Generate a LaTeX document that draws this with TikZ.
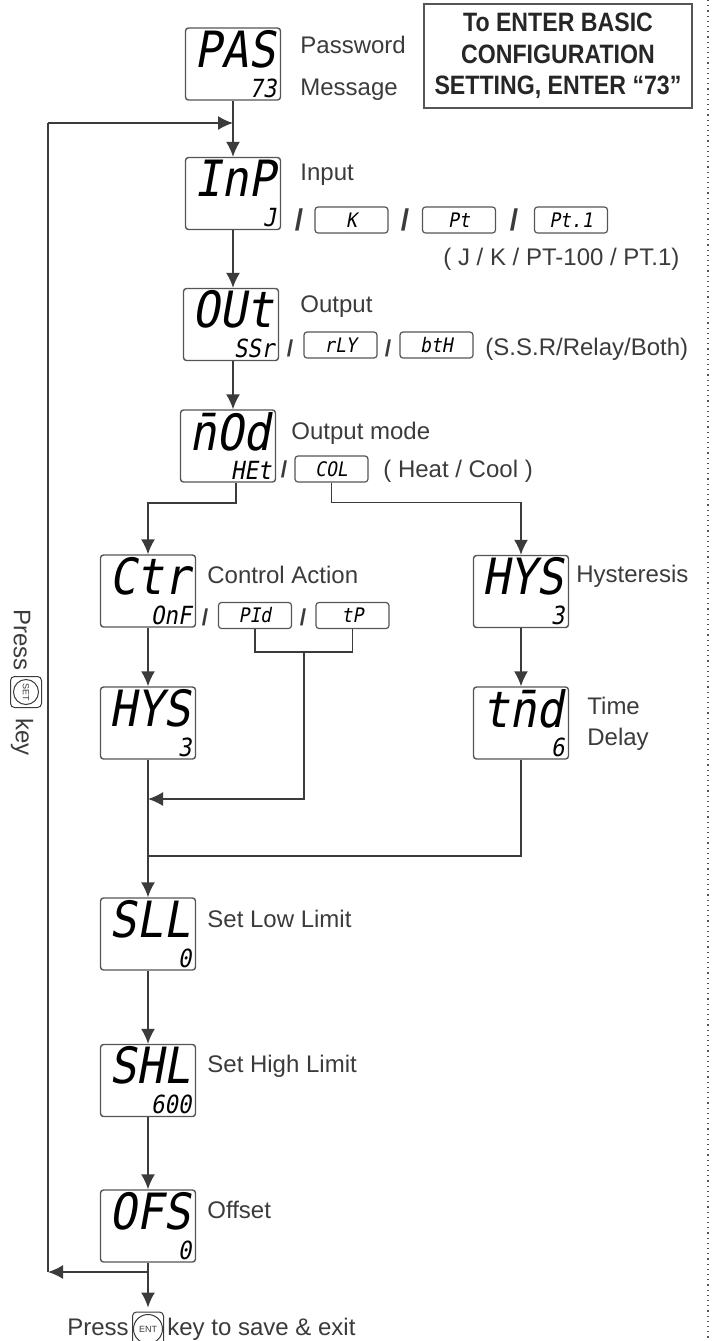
\documentclass[tikz,border=0pt]{standalone}
\usepackage{fontspec}
\setmainfont{Liberation Sans}
\newfontfamily\segfont[FakeSlant=0.18,FakeStretch=0.9]{DejaVu Sans Mono}
\newfontfamily\notefont[FakeStretch=0.87]{Liberation Sans}
\usetikzlibrary{arrows.meta, positioning, calc}
\definecolor{ink}{HTML}{3B3B3B}
\definecolor{frame}{HTML}{555555}

\begin{document}
\begin{tikzpicture}[x=0.5pt, y=-0.5pt, font=\fontsize{12}{14}\selectfont]
    \tikzstyle{display} = [rectangle, draw=frame, line width=0.7pt, fill=white,
        rounded corners=1.5pt, minimum width=47.5pt, minimum height=36pt, inner sep=0pt]
    \tikzstyle{segbig} = [anchor=north east, inner xsep=2.6pt, inner ysep=1.2pt, text=black,
        font=\segfont\fontsize{25}{25}\selectfont]
    \tikzstyle{segsmall} = [anchor=south east, inner xsep=2.2pt, inner ysep=1.4pt, text=black,
        font=\segfont\fontsize{12.5}{12.5}\selectfont]
    \tikzstyle{option} = [rectangle, draw=frame, line width=0.6pt, rounded corners=1.5pt,
        minimum width=36.5pt, minimum height=13pt, inner sep=0pt, text=black,
        font=\segfont\fontsize{10}{10}\selectfont]
    \tikzstyle{caption} = [text=ink, inner sep=0pt, anchor=base west]
    \tikzstyle{slash} = [text=ink, inner sep=0pt, font=\bfseries\fontsize{11.5}{11.5}\selectfont]
    \tikzstyle{note} = [rectangle, draw=frame, line width=0.7pt, align=center,
        minimum width=134pt, minimum height=52pt, text=black!85,
        font=\notefont\bfseries\fontsize{13.3}{15.8}\selectfont]
    \tikzstyle{keybtn} = [rectangle, draw=ink, line width=0.5pt, rounded corners=2pt,
        minimum size=15.5pt, inner sep=0pt]
    \tikzstyle{keyring} = [circle, draw=ink, line width=0.5pt, minimum size=12.5pt,
        inner sep=0pt, text=ink, font=\fontsize{4.5}{5}\selectfont]
    \tikzstyle{line} = [draw=ink, line width=0.8pt, -{Latex[length=7.5pt,width=7pt]}]
    \tikzstyle{plain} = [draw=ink, line width=0.8pt]

    \useasboundingbox (0,0) rectangle (712,1341);

    % main column
    \node [display] (pas) at (233,64) {};
    \node [segbig] (pasbig) at (pas.north east) {PAS};
    \node [segsmall] (passub) at (pas.south east) {73};
    \node [caption] (pasname) at (300,53) {Password};
    \node [caption] (pasmsg) at (300,95) {Message};

    \node [note] (note) at (558,56) {To ENTER BASIC\\CONFIGURATION\\SETTING, ENTER “73”};

    \node [display] (inp) at (233,193.5) {};
    \node [segbig] (inpbig) at (inp.north east) {InP};
    \node [segsmall] (inpsub) at (inp.south east) {J};
    \node [caption] (inpname) at (300,180) {Input};
    \node [slash, font=\bfseries\fontsize{15}{15}\selectfont] (inpsl1) at (299,220) {/};
    \node [option] (optk) at (351.5,220) {K};
    \node [slash, font=\bfseries\fontsize{15}{15}\selectfont] (inpsl2) at (405,220) {/};
    \node [option] (optpt) at (459,220) {Pt};
    \node [slash, font=\bfseries\fontsize{15}{15}\selectfont] (inpsl3) at (514,220) {/};
    \node [option] (optpti) at (571,220) {Pt.1};
    \node [caption] (inpvals) at (443,265) {( J / K / PT-100 / PT.1)};

    \node [display] (out) at (231,324.5) {};
    \node [segbig] (outbig) at (out.north east) {OUt};
    \node [segsmall] (outsub) at (out.south east) {SSr};
    \node [caption] (outname) at (300,312) {Output};
    \node [slash] (outsl1) at (290,348) {/};
    \node [option] (optrly) at (340.5,345) {rLY};
    \node [slash] (outsl2) at (388,348) {/};
    \node [option] (optbth) at (436.5,345) {btH};
    \node [caption] (outvals) at (485,355) {(S.S.R/Relay/Both)};

    \node [display] (nod) at (228,446) {};
    \node [segbig] (nodbig) at (nod.north east) {n̄Od};
    \node [segsmall] (nodsub) at (nod.south east) {HEt};
    \node [caption] (nodname) at (291,439) {Output mode};
    \node [slash] (nodsl1) at (284,469) {/};
    \node [option] (optcol) at (331.5,469) {COL};
    \node [caption] (nodvals) at (383,477) {( Heat / Cool )};

    % heat branch
    \node [display] (ctr) at (148,591) {};
    \node [segbig] (ctrbig) at (ctr.north east) {Ctr};
    \node [segsmall] (ctrsub) at (ctr.south east) {OnF};
    \node [caption] (ctrname) at (207,583) {Control Action};
    \node [slash] (ctrsl1) at (205,617) {/};
    \node [option] (optpid) at (255,615.5) {PId};
    \node [slash] (ctrsl2) at (303,617) {/};
    \node [option] (opttp) at (352.5,615.5) {tP};

    \node [display] (hysa) at (148,723) {};
    \node [segbig] (hysabig) at (hysa.north east) {HYS};
    \node [segsmall] (hysasub) at (hysa.south east) {3};

    % cool branch
    \node [display] (hysb) at (521,591.5) {};
    \node [segbig] (hysbbig) at (hysb.north east) {HYS};
    \node [segsmall] (hysbsub) at (hysb.south east) {3};
    \node [caption] (hysbname) at (576,582) {Hysteresis};

    \node [display] (tnd) at (521,723) {};
    \node [segbig] (tndbig) at (tnd.north east) {tn̄d};
    \node [segsmall] (tndsub) at (tnd.south east) {6};
    \node [caption] (tndname) at (587,714) {Time};
    \node [caption] (tndname2) at (587,745) {Delay};

    % limits
    \node [display] (sll) at (148,934) {};
    \node [segbig] (sllbig) at (sll.north east) {SLL};
    \node [segsmall] (sllsub) at (sll.south east) {0};
    \node [caption] (sllname) at (207,927) {Set Low Limit};

    \node [display] (shl) at (148,1080.5) {};
    \node [segbig] (shlbig) at (shl.north east) {SHL};
    \node [segsmall] (shlsub) at (shl.south east) {600};
    \node [caption] (shlname) at (207,1072) {Set High Limit};

    \node [display] (ofs) at (148,1226) {};
    \node [segbig] (ofsbig) at (ofs.north east) {OFS};
    \node [segsmall] (ofssub) at (ofs.south east) {0};
    \node [caption] (ofsname) at (207,1218) {Offset};

    % keys
    \node [caption, rotate=-90, anchor=center] (setpress) at (22,640) {Press};
    \node [keybtn] (setkey) at (26,692) {};
    \node [keyring, rotate=-90] (setring) at (setkey) {SET};
    \node [caption, rotate=-90, anchor=center] (setword) at (22,737) {key};

    \node [caption] (exitpress) at (67,1335) {Press};
    \node [keybtn, minimum height=17pt] (entkey) at (148,1329) {};
    \node [keyring, minimum size=14.5pt] (entring) at (entkey) {ENT};
    \node [caption] (exitword) at (167,1335) {key to save \& exit};

    \coordinate (entry) at (233,123);
    \coordinate (looptop) at (48,123);
    \coordinate (loopbot) at (48,1272);
    \coordinate (exitsplit) at (148,1272);
    \coordinate (mergea) at (148,799);
    \coordinate (mergeb) at (148,856);

    \path [line] (pas) -- (inp);
    \path [line] (inp.south) -- (inp.south |- out.north);
    \path [line] ([xshift=1pt]out.south) -- ([xshift=1pt]out.south |- nod.north);
    \path [line] ([xshift=4pt]nod.south) -- ++(0,20) -| (ctr.north);
    \path [line] (optcol.south) -- ++(0,20) -| (hysb.north);
    \path [line] (ctr) -- (hysa);
    \path [line] (hysb) -- (tnd);
    \path [plain] (optpid.south) -- ++(0,23) coordinate (brkl) -| (opttp.south);
    \coordinate (brkm) at ($(brkl)!0.5!(brkl -| opttp.south)$);
    \path [line] (brkm) |- (mergea);
    \path [plain] (tnd.south) |- (mergeb);
    \path [line] (hysa) -- (sll);
    \path [line] (sll) -- (shl);
    \path [line] (shl) -- (ofs);
    \path [line, shorten >=2pt] (ofs) -- (entkey);
    \path [line] (exitsplit) -- (loopbot);
    \path [plain] (loopbot) -- (looptop);
    \path [line] (looptop) -- (entry);

    \draw [frame, dotted, line width=0.6pt] (708,0) -- (708,1341);
\end{tikzpicture}
\end{document}
